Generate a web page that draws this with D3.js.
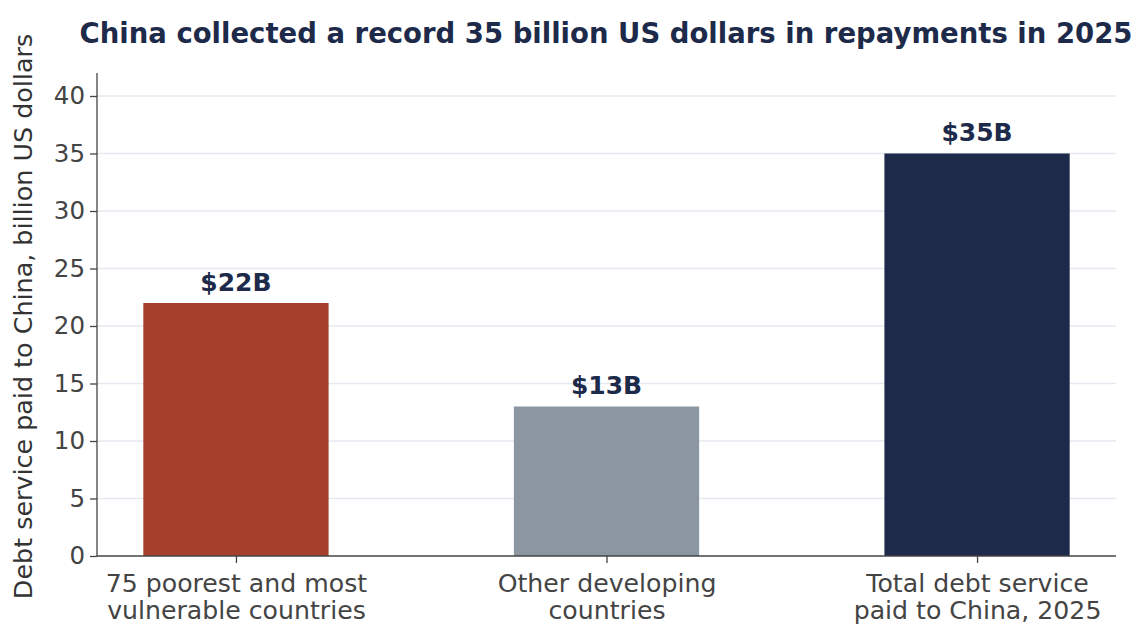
<!DOCTYPE html>
<html>
<head>
<meta charset="utf-8">
<script src="https://cdn.jsdelivr.net/npm/d3@7"></script>
<style>
  html, body { margin: 0; padding: 0; background: #fff; }
  svg { display: block; font-family: "DejaVu Sans", sans-serif; }
</style>
</head>
<body>
<svg id="chart" width="1136" height="627"></svg>
<script>
const categories = [
  ["75 poorest and most", "vulnerable countries"],
  ["Other developing", "countries"],
  ["Total debt service", "paid to China, 2025"]
];
const values = [22, 13, 35];
const valueLabels = ["$22B", "$13B", "$35B"];
const barColors = ["#a5402d", "#8c96a1", "#1d2a4a"];
const yTicks = [0, 5, 10, 15, 20, 25, 30, 35, 40];

const svg = d3.select("#chart");
const margin = { left: 97, right: 20, top: 73, bottom: 71 };
const W = 1136, H = 627;

const x = d3.scaleLinear().domain([-0.375, 2.375]).range([margin.left, W - margin.right]);
const y = d3.scaleLinear().domain([0, 42]).range([H - margin.bottom, margin.top]);

// gridlines
svg.append("g").selectAll("line").data(yTicks.slice(1)).join("line")
  .attr("x1", margin.left).attr("x2", W - margin.right)
  .attr("y1", d => y(d)).attr("y2", d => y(d))
  .attr("stroke", "#e6e9f0").attr("stroke-width", 1.6);

// bars
const bw = x(0.25) - x(-0.25);
svg.append("g").selectAll("rect").data(values).join("rect")
  .attr("x", (d, i) => x(i) - bw / 2)
  .attr("width", bw)
  .attr("y", d => y(d))
  .attr("height", d => y(0) - y(d))
  .attr("fill", (d, i) => barColors[i]);

// value labels
svg.append("g").selectAll("text").data(values).join("text")
  .attr("x", (d, i) => x(i))
  .attr("y", d => y(d) - 12.5)
  .attr("text-anchor", "middle")
  .attr("font-size", 25).attr("font-weight", "bold")
  .attr("fill", "#1d2a4a")
  .text((d, i) => valueLabels[i]);

// y axis
const yAxis = d3.axisLeft(y).tickValues(yTicks).tickSize(7).tickPadding(5);
const gy = svg.append("g").attr("transform", `translate(${margin.left},0)`).call(yAxis);
gy.select(".domain").attr("d", `M0,${margin.top}V${y(0)}`).attr("stroke", "#444").attr("stroke-width", 1.3);
gy.selectAll(".tick line").attr("stroke", "#444").attr("stroke-width", 1.3);
gy.selectAll(".tick text").attr("font-size", 24.5).attr("fill", "#444")
  .attr("font-family", "DejaVu Sans, sans-serif");

// x axis
const xAxis = d3.axisBottom(x).tickValues([0, 1, 2]).tickSize(7).tickFormat("");
const gx = svg.append("g").attr("transform", `translate(0,${y(0)})`).call(xAxis);
gx.select(".domain").attr("d", `M${margin.left},0H${W - margin.right}`).attr("stroke", "#444").attr("stroke-width", 1.3);
gx.selectAll(".tick line").attr("stroke", "#444").attr("stroke-width", 1.3);
gx.selectAll(".tick").each(function (d) {
  const t = d3.select(this).append("text")
    .attr("text-anchor", "middle").attr("font-size", 25.2).attr("fill", "#444")
    .attr("font-family", "DejaVu Sans, sans-serif");
  categories[d].forEach((line, k) => {
    t.append("tspan").attr("x", 0).attr("y", 36 + k * 27).text(line);
  });
});

// y axis title
svg.append("text")
  .attr("transform", `translate(32,${(margin.top + y(0)) / 2 + 2}) rotate(-90)`)
  .attr("text-anchor", "middle").attr("font-size", 25.4).attr("fill", "#333")
  .text("Debt service paid to China, billion US dollars");

// chart title
svg.append("text")
  .attr("x", 606).attr("y", 43)
  .attr("text-anchor", "middle").attr("font-size", 27.5).attr("font-weight", "bold")
  .attr("fill", "#1d2a4a")
  .text("China collected a record 35 billion US dollars in repayments in 2025");
</script>
</body>
</html>
